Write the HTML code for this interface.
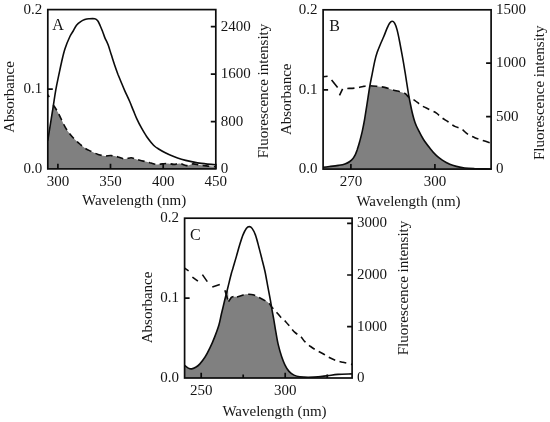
<!DOCTYPE html>
<html><head><meta charset="utf-8">
<style>
html,body{margin:0;padding:0;background:#fff;}
body{width:550px;height:422px;overflow:hidden;font-family:"Liberation Serif",serif;}
svg{display:block;filter:grayscale(1);}
text{font-family:"Liberation Serif",serif;fill:#151515;}
.ax{fill:none;stroke:#0c0c0c;stroke-width:1.7;}
.tk{stroke:#0c0c0c;stroke-width:1.7;fill:none;}
.sol{fill:none;stroke:#0c0c0c;stroke-width:1.6;stroke-linejoin:round;}
.dsh{fill:none;stroke:#0c0c0c;stroke-width:1.6;stroke-dasharray:7 4.6;}
.dsh2{fill:none;stroke:#0c0c0c;stroke-width:1.6;stroke-linejoin:round;}
.fil{fill:#808080;stroke:none;}
.tl{font-size:15px;}
.al{font-size:15px;}
.pl{font-size:16px;}
</style></head>
<body>
<svg width="550" height="422" viewBox="0 0 550 422">
<rect width="550" height="422" fill="#fff"/>
<g>
<path class="fil" d="M47.8,140.7 C48.2,138.3 49.2,131.5 50.0,126.6 C50.8,121.6 51.9,114.6 52.5,111.0 C53.1,107.4 52.4,104.7 53.4,105.0 C54.4,105.3 56.4,109.4 58.3,113.0 C60.2,116.6 63.0,123.1 64.9,126.6 C66.8,130.1 68.2,131.8 69.9,134.0 C71.6,136.2 73.2,137.8 74.9,139.5 C76.6,141.2 78.2,142.6 79.8,144.0 C81.4,145.4 82.9,146.8 84.8,148.1 C86.7,149.3 89.2,150.4 91.4,151.5 C93.6,152.6 95.9,153.7 98.1,154.4 C100.3,155.1 102.5,155.7 104.7,155.9 C106.9,156.1 109.1,155.4 111.3,155.6 C113.5,155.8 115.8,156.3 118.0,156.9 C120.2,157.5 122.4,158.8 124.6,158.9 C126.8,159.1 129.2,157.7 131.2,157.8 C133.2,157.9 134.6,158.9 136.6,159.4 C138.6,159.9 141.1,160.6 143.3,161.1 C145.5,161.6 147.7,162.1 149.9,162.7 C152.1,163.2 154.4,164.2 156.5,164.4 C158.6,164.6 160.4,164.1 162.3,163.9 C164.2,163.7 166.2,163.3 168.1,163.4 C170.0,163.5 171.9,164.4 173.9,164.4 C175.9,164.4 177.7,163.2 179.8,163.4 C181.9,163.6 184.2,165.5 186.4,165.6 C188.6,165.7 190.8,164.0 193.0,163.9 C195.2,163.8 197.2,164.7 199.7,165.1 C202.2,165.5 205.3,165.8 208.0,166.1 C210.7,166.4 214.5,166.6 215.8,166.7 L215.8,168.9 L47.8,168.9 Z"/>
<path class="sol" d="M47.8,140.7 C48.2,138.3 49.2,131.5 50.0,126.6 C50.8,121.6 51.5,117.1 52.5,111.0 C53.5,104.9 54.8,95.5 55.8,89.9 C56.8,84.3 57.3,82.1 58.3,77.4 C59.3,72.8 60.5,66.8 61.6,62.0 C62.7,57.2 63.5,53.1 64.9,48.9 C66.3,44.6 68.5,39.5 69.9,36.5 C71.3,33.5 72.1,32.9 73.2,31.0 C74.3,29.1 75.2,26.8 76.5,25.2 C77.8,23.6 79.3,22.5 80.7,21.6 C82.1,20.7 83.4,20.1 84.8,19.6 C86.2,19.1 87.2,18.9 88.9,18.8 C90.6,18.7 93.3,18.5 94.8,18.8 C96.3,19.1 96.8,19.7 97.7,20.8 C98.6,21.9 99.4,23.9 100.2,25.7 C101.0,27.5 101.8,29.5 102.6,31.5 C103.4,33.5 103.9,35.4 104.8,37.6 C105.7,39.8 107.0,41.9 108.1,44.8 C109.2,47.7 110.3,51.8 111.4,55.1 C112.5,58.5 113.5,61.7 114.6,64.9 C115.7,68.1 116.8,71.2 117.9,74.2 C119.1,77.2 120.4,80.3 121.5,83.0 C122.6,85.7 123.2,87.2 124.6,90.3 C125.9,93.3 128.1,97.9 129.6,101.3 C131.1,104.7 132.1,107.6 133.3,110.4 C134.5,113.2 135.2,115.3 136.6,118.3 C138.0,121.3 139.9,125.2 141.6,128.2 C143.3,131.2 144.9,134.0 146.6,136.5 C148.3,139.0 150.2,141.3 151.6,143.0 C153.0,144.7 153.9,145.6 155.0,146.5 C156.1,147.4 156.6,147.7 158.2,148.7 C159.8,149.7 162.3,151.2 164.8,152.5 C167.3,153.8 170.3,155.2 173.1,156.3 C175.9,157.4 178.3,158.3 181.4,159.2 C184.5,160.1 188.1,160.9 191.4,161.6 C194.7,162.3 197.2,162.9 201.3,163.4 C205.4,163.9 213.4,164.6 215.8,164.8"/>
<path class="dsh2" d="M47.8,94.6 L49.2,97.2"/><path class="dsh" style="stroke-dasharray:6.6 4.4" d="M53.3,104.8 C54.1,106.2 56.4,109.4 58.3,113.0 C60.2,116.6 63.0,123.1 64.9,126.6 C66.8,130.1 68.2,131.8 69.9,134.0 C71.6,136.2 73.2,137.8 74.9,139.5 C76.6,141.2 78.2,142.6 79.8,144.0 C81.4,145.4 82.9,146.8 84.8,148.1 C86.7,149.3 89.2,150.4 91.4,151.5 C93.6,152.6 95.9,153.7 98.1,154.4 C100.3,155.1 102.5,155.7 104.7,155.9 C106.9,156.1 109.1,155.4 111.3,155.6 C113.5,155.8 115.8,156.3 118.0,156.9 C120.2,157.5 122.4,158.8 124.6,158.9 C126.8,159.1 129.2,157.7 131.2,157.8 C133.2,157.9 134.6,158.9 136.6,159.4 C138.6,159.9 141.1,160.6 143.3,161.1 C145.5,161.6 147.7,162.1 149.9,162.7 C152.1,163.2 154.4,164.2 156.5,164.4 C158.6,164.6 160.4,164.1 162.3,163.9 C164.2,163.7 166.2,163.3 168.1,163.4 C170.0,163.5 171.9,164.4 173.9,164.4 C175.9,164.4 177.7,163.2 179.8,163.4 C181.9,163.6 184.2,165.5 186.4,165.6 C188.6,165.7 190.8,164.0 193.0,163.9 C195.2,163.8 197.2,164.7 199.7,165.1 C202.2,165.5 205.3,165.8 208.0,166.1 C210.7,166.4 214.5,166.6 215.8,166.7"/>
<rect class="ax" x="47.8" y="9.6" width="168.0" height="159.3"/>
<path class="tk" d="M57.9,168.9 v-5.2 M110.5,168.9 v-5.2 M163.2,168.9 v-5.2 M215.8,168.9 v-5.2 M47.8,89.2 h5.0 M215.8,26.6 h-5.0 M215.8,74.2 h-5.0 M215.8,121.6 h-5.0 "/>
<text class="tl" x="57.9" y="185.6" text-anchor="middle">300</text>
<text class="tl" x="110.5" y="185.6" text-anchor="middle">350</text>
<text class="tl" x="163.2" y="185.6" text-anchor="middle">400</text>
<text class="tl" x="215.8" y="185.6" text-anchor="middle">450</text>
<text class="tl" x="42.3" y="13.7" text-anchor="end">0.2</text>
<text class="tl" x="42.3" y="93.3" text-anchor="end">0.1</text>
<text class="tl" x="42.3" y="173.0" text-anchor="end">0.0</text>
<text class="tl" x="220.8" y="30.7">2400</text>
<text class="tl" x="220.8" y="78.3">1600</text>
<text class="tl" x="220.8" y="125.7">800</text>
<text class="tl" x="220.8" y="173.0">0</text>
<text class="pl" x="52.2" y="30.0">A</text>
<text class="al" x="82.0" y="205.3">Wavelength (nm)</text>
<text class="al" transform="translate(13.7,97.0) rotate(-90)" text-anchor="middle">Absorbance</text>
<text class="al" transform="translate(267.8,91.0) rotate(-90)" text-anchor="middle">Fluorescence intensity</text>

</g>
<g>
<path class="fil" d="M323.1,167.2 C324.2,167.1 327.1,166.8 329.6,166.5 C332.2,166.2 335.8,165.8 338.4,165.4 C340.9,165.0 343.0,164.7 344.9,164.0 C346.8,163.3 348.4,162.5 349.8,161.5 C351.2,160.5 352.3,159.3 353.2,158.2 C354.1,157.1 354.5,156.3 355.2,154.9 C355.9,153.5 356.4,152.0 357.2,149.8 C357.9,147.6 358.9,144.5 359.7,141.5 C360.5,138.5 361.4,135.2 362.2,131.6 C363.0,128.0 363.7,124.5 364.5,120.0 C365.3,115.5 366.0,110.5 366.9,104.8 C367.8,99.1 369.4,88.9 369.9,85.7 C371.2,85.8 375.5,86.2 378.0,86.5 C380.5,86.8 382.2,86.8 384.7,87.4 C387.2,88.0 389.7,88.9 393.0,89.9 C396.3,90.9 402.0,92.0 404.6,93.2 C407.2,94.4 408.2,96.4 408.9,97.0 C409.2,98.2 409.9,101.6 410.5,104.5 C411.1,107.4 411.9,111.5 412.7,114.5 C413.4,117.5 414.1,119.9 415.0,122.5 C415.9,125.1 416.9,127.2 418.3,129.9 C419.7,132.7 421.3,135.9 423.2,139.0 C425.1,142.1 427.7,145.4 429.9,148.2 C432.1,151.0 434.3,153.5 436.5,155.6 C438.7,157.7 440.9,159.1 443.1,160.6 C445.3,162.1 447.6,163.3 449.8,164.3 C452.0,165.3 453.9,165.8 456.4,166.4 C458.9,167.0 461.6,167.6 464.7,168.0 C467.8,168.4 470.3,168.5 474.7,168.7 C479.1,168.9 488.4,168.9 491.1,169.0 L491.1,169.1 L323.1,169.1 Z"/>
<path class="sol" d="M323.1,167.2 C324.2,167.1 327.1,166.8 329.6,166.5 C332.2,166.2 335.8,165.8 338.4,165.4 C340.9,165.0 343.0,164.7 344.9,164.0 C346.8,163.3 348.4,162.5 349.8,161.5 C351.2,160.5 352.3,159.3 353.2,158.2 C354.1,157.1 354.5,156.3 355.2,154.9 C355.9,153.5 356.4,152.0 357.2,149.8 C357.9,147.6 358.9,144.5 359.7,141.5 C360.5,138.5 361.4,135.2 362.2,131.6 C363.0,128.0 363.7,124.5 364.5,120.0 C365.3,115.5 366.0,110.5 366.9,104.8 C367.8,99.1 369.0,90.9 369.9,85.7 C370.8,80.5 371.4,77.8 372.2,73.8 C373.0,69.8 373.9,65.0 374.7,61.4 C375.5,57.8 376.2,55.2 377.2,52.3 C378.2,49.4 379.4,46.6 380.5,44.0 C381.6,41.4 382.7,39.1 383.8,36.5 C384.9,33.9 386.1,30.4 387.1,28.2 C388.1,26.0 388.8,24.3 389.6,23.2 C390.4,22.1 391.3,21.3 392.1,21.3 C392.9,21.3 393.8,21.8 394.6,23.2 C395.4,24.6 396.3,26.8 397.1,29.9 C397.9,32.9 398.8,37.4 399.6,41.5 C400.4,45.6 401.2,49.9 402.1,54.8 C403.0,59.6 404.1,66.1 404.8,70.6 C405.6,75.1 406.0,78.2 406.6,82.0 C407.2,85.8 407.8,89.8 408.4,93.5 C409.0,97.2 409.8,101.0 410.5,104.5 C411.2,108.0 411.9,111.5 412.7,114.5 C413.4,117.5 414.1,119.9 415.0,122.5 C415.9,125.1 416.9,127.2 418.3,129.9 C419.7,132.7 421.3,135.9 423.2,139.0 C425.1,142.1 427.7,145.4 429.9,148.2 C432.1,151.0 434.3,153.5 436.5,155.6 C438.7,157.7 440.9,159.1 443.1,160.6 C445.3,162.1 447.6,163.3 449.8,164.3 C452.0,165.3 453.9,165.8 456.4,166.4 C458.9,167.0 461.6,167.6 464.7,168.0 C467.8,168.4 470.3,168.5 474.7,168.7 C479.1,168.9 488.4,168.9 491.1,169.0"/>
<path class="dsh2" d="M323.1,76.7 L327.6,76.3 M331.6,80.0 L337.6,87.6 M342.6,88.8 L339.5,95.4"/><path class="dsh" d="M347.3,88.5 C348.8,88.4 353.9,88.2 356.5,87.9 C359.1,87.6 360.9,86.9 363.1,86.5 C365.3,86.1 367.2,85.7 369.7,85.7 C372.2,85.7 375.5,86.2 378.0,86.5 C380.5,86.8 382.2,86.8 384.7,87.4 C387.2,88.0 389.7,88.9 393.0,89.9 C396.3,90.9 402.1,92.1 404.6,93.2 C407.2,94.3 406.6,95.6 408.3,96.8 C410.0,98.0 412.8,99.1 415.0,100.6 C417.2,102.1 419.1,104.1 421.6,105.6 C424.1,107.1 427.4,108.5 429.9,109.8 C432.4,111.0 434.6,111.8 436.5,113.1 C438.4,114.4 439.5,116.0 441.5,117.5 C443.5,119.0 446.2,120.5 448.4,122.0 C450.6,123.5 452.6,125.2 454.8,126.4 C457.0,127.6 459.2,127.6 461.4,128.9 C463.5,130.2 465.5,132.7 467.7,134.1 C469.9,135.5 472.0,136.4 474.3,137.4 C476.6,138.4 478.5,138.9 481.3,139.9 C484.1,140.9 489.5,142.6 491.1,143.2"/>
<rect class="ax" x="323.1" y="9.8" width="168.0" height="159.3"/>
<path class="tk" d="M350.9,169.1 v-5.2 M434.9,169.1 v-5.2 M323.1,89.9 h5.0 M491.1,63.2 h-5.0 M491.1,116.6 h-5.0 "/>
<text class="tl" x="350.9" y="185.8" text-anchor="middle">270</text>
<text class="tl" x="434.9" y="185.8" text-anchor="middle">300</text>
<text class="tl" x="317.6" y="13.9" text-anchor="end">0.2</text>
<text class="tl" x="317.6" y="94.0" text-anchor="end">0.1</text>
<text class="tl" x="317.6" y="173.2" text-anchor="end">0.0</text>
<text class="tl" x="496.1" y="13.9">1500</text>
<text class="tl" x="496.1" y="67.3">1000</text>
<text class="tl" x="496.1" y="120.7">500</text>
<text class="tl" x="496.1" y="173.2">0</text>
<text class="pl" x="329.2" y="30.7">B</text>
<text class="al" x="356.4" y="205.5">Wavelength (nm)</text>
<text class="al" transform="translate(290.7,99.3) rotate(-90)" text-anchor="middle">Absorbance</text>
<text class="al" transform="translate(543.5,92.8) rotate(-90)" text-anchor="middle">Fluorescence intensity</text>

</g>
<g>
<path class="fil" d="M184.6,365.4 C185.2,365.8 187.1,367.5 188.3,368.1 C189.5,368.7 190.4,369.0 191.6,368.9 C192.8,368.8 194.3,368.1 195.7,367.3 C197.1,366.5 198.4,365.6 199.9,363.9 C201.4,362.2 203.2,359.9 204.9,357.3 C206.6,354.7 208.2,351.6 209.8,348.2 C211.5,344.8 213.3,340.5 214.8,336.6 C216.3,332.7 217.8,328.8 218.9,325.0 C220.0,321.2 220.4,318.2 221.4,314.0 C222.4,309.8 223.8,304.1 224.8,299.8 C225.9,295.5 227.1,288.1 227.7,288.2 C228.3,288.3 228.3,298.4 228.4,300.5 C228.9,299.9 230.5,297.8 231.4,297.2 C232.3,296.6 232.9,296.8 234.0,296.7 C235.1,296.6 236.8,296.9 238.0,296.8 C239.2,296.7 239.9,296.2 241.0,295.8 C242.1,295.4 243.4,294.8 244.7,294.5 C246.0,294.2 247.4,294.2 248.8,294.3 C250.2,294.4 251.6,294.5 252.9,294.8 C254.2,295.1 255.4,295.7 256.5,296.2 C257.6,296.7 258.2,297.1 259.6,297.8 C261.0,298.5 263.4,299.7 265.0,300.6 C266.6,301.5 268.1,302.4 269.1,303.4 C270.2,304.4 270.9,305.9 271.3,306.4 C271.4,307.0 271.5,307.3 272.0,309.8 C272.5,312.3 273.5,317.8 274.1,321.4 C274.7,325.0 275.1,327.7 275.8,331.6 C276.5,335.5 277.3,340.8 278.3,344.9 C279.3,349.0 280.5,353.2 281.6,356.5 C282.7,359.8 283.7,362.3 284.9,364.8 C286.1,367.3 287.5,369.7 289.0,371.4 C290.5,373.1 292.2,374.2 294.0,375.1 C295.8,376.0 298.3,376.3 299.8,376.7 C301.3,377.1 302.5,377.3 303.0,377.4 L303.0,378.0 L184.6,378.0 Z"/>
<path class="sol" d="M184.6,365.4 C185.2,365.8 187.1,367.5 188.3,368.1 C189.5,368.7 190.4,369.0 191.6,368.9 C192.8,368.8 194.3,368.1 195.7,367.3 C197.1,366.5 198.4,365.6 199.9,363.9 C201.4,362.2 203.2,359.9 204.9,357.3 C206.6,354.7 208.2,351.6 209.8,348.2 C211.5,344.8 213.3,340.5 214.8,336.6 C216.3,332.7 217.8,328.8 218.9,325.0 C220.0,321.2 220.4,318.2 221.4,314.0 C222.4,309.8 223.8,304.1 224.8,299.8 C225.9,295.5 226.6,292.6 227.7,288.2 C228.8,283.8 230.5,276.7 231.4,273.3 C232.3,269.9 232.2,270.8 233.0,268.0 C233.8,265.2 235.3,260.3 236.4,256.4 C237.5,252.5 238.6,248.4 239.7,244.8 C240.8,241.2 241.9,237.6 243.0,234.9 C244.1,232.2 245.2,229.8 246.3,228.4 C247.4,227.0 248.3,226.6 249.3,226.6 C250.3,226.6 251.1,227.0 252.1,228.4 C253.1,229.8 254.3,231.9 255.4,234.9 C256.5,237.9 257.6,242.3 258.7,246.5 C259.8,250.7 261.1,255.6 262.1,259.8 C263.2,264.0 264.1,267.3 265.0,271.5 C265.9,275.7 266.7,280.5 267.5,284.9 C268.3,289.3 269.2,294.0 270.0,298.1 C270.8,302.2 271.3,305.9 272.0,309.8 C272.7,313.7 273.5,317.8 274.1,321.4 C274.7,325.0 275.1,327.7 275.8,331.6 C276.5,335.5 277.3,340.8 278.3,344.9 C279.3,349.0 280.5,353.2 281.6,356.5 C282.7,359.8 283.7,362.3 284.9,364.8 C286.1,367.3 287.5,369.7 289.0,371.4 C290.5,373.1 292.2,374.2 294.0,375.1 C295.8,376.0 297.4,376.4 299.8,376.7 C302.2,377.0 305.1,377.2 308.1,377.2 C311.2,377.2 314.8,377.2 318.1,376.9 C321.4,376.6 324.7,376.0 328.0,375.6 C331.3,375.2 334.0,374.7 338.0,374.4 C342.0,374.1 349.8,374.0 352.1,373.9"/>
<path class="dsh2" d="M184.6,268.1 L188.6,270.8 M192.4,277.1 L197.9,281.2 M202.4,274.6 L207.3,281.6 M212.3,287.0 L219.8,284.4 M224.9,290.2 L227.7,299.6 M228.6,301.6 L231.4,297.2 L233.5,296.6"/><path class="dsh" d="M237.0,297.0 C237.7,296.8 239.7,296.2 241.0,295.8 C242.3,295.4 243.4,294.8 244.7,294.5 C246.0,294.2 247.4,294.2 248.8,294.3 C250.2,294.4 251.6,294.5 252.9,294.8 C254.2,295.1 255.4,295.7 256.5,296.2 C257.6,296.7 258.2,297.1 259.6,297.8 C261.0,298.5 263.4,299.7 265.0,300.6 C266.6,301.5 268.1,302.4 269.1,303.4 C270.2,304.4 270.2,305.1 271.3,306.4 C272.4,307.7 274.2,309.6 275.8,311.4 C277.4,313.2 279.2,315.5 280.8,317.2 C282.4,318.9 284.2,320.1 285.7,321.7 C287.2,323.3 288.4,324.8 289.9,326.6 C291.4,328.4 293.1,330.7 294.9,332.4 C296.7,334.1 299.0,335.1 300.7,336.6 C302.4,338.1 303.1,340.0 304.8,341.6 C306.5,343.2 308.7,345.1 310.6,346.5 C312.5,347.9 314.3,349.1 316.4,350.3 C318.5,351.5 320.9,352.5 323.0,353.7 C325.1,354.9 326.6,356.1 328.8,357.3 C331.0,358.5 333.9,359.8 336.3,360.6 C338.7,361.4 340.4,361.7 343.0,362.3 C345.6,362.9 350.6,364.0 352.1,364.4"/>
<rect class="ax" x="184.6" y="218.2" width="167.5" height="159.8"/>
<path class="tk" d="M201.2,378.0 v-5.2 M285.2,378.0 v-5.2 M243.2,378.0 v-3.4 M327.2,378.0 v-3.4 M184.6,298.1 h5.0 M352.1,223.3 h-5.0 M352.1,275.0 h-5.0 M352.1,326.6 h-5.0 "/>
<text class="tl" x="201.2" y="394.7" text-anchor="middle">250</text>
<text class="tl" x="285.2" y="394.7" text-anchor="middle">300</text>
<text class="tl" x="179.1" y="222.3" text-anchor="end">0.2</text>
<text class="tl" x="179.1" y="302.2" text-anchor="end">0.1</text>
<text class="tl" x="179.1" y="382.1" text-anchor="end">0.0</text>
<text class="tl" x="357.1" y="227.4">3000</text>
<text class="tl" x="357.1" y="279.1">2000</text>
<text class="tl" x="357.1" y="330.7">1000</text>
<text class="tl" x="357.1" y="382.1">0</text>
<text class="pl" x="189.9" y="239.5">C</text>
<text class="al" x="222.4" y="415.5">Wavelength (nm)</text>
<text class="al" transform="translate(152.0,307.4) rotate(-90)" text-anchor="middle">Absorbance</text>
<text class="al" transform="translate(408.4,288.0) rotate(-90)" text-anchor="middle">Fluorescence intensity</text>

</g>
</svg>
</body></html>
